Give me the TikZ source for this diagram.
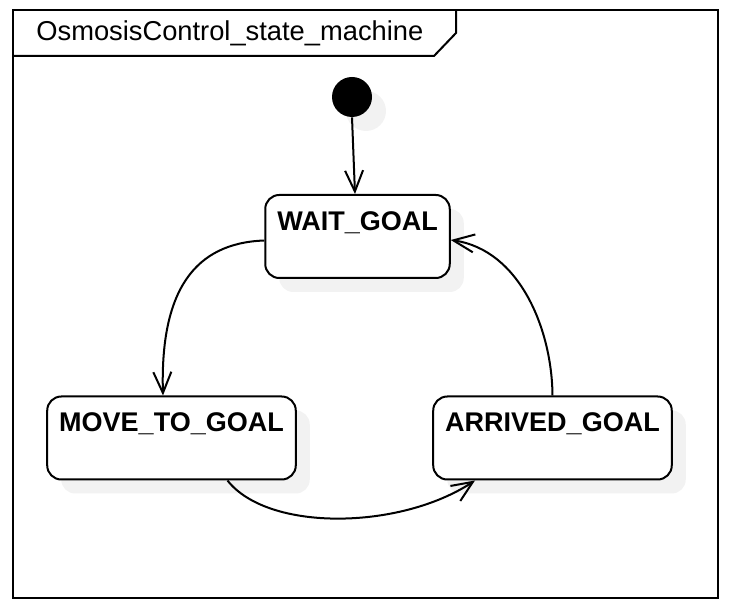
\documentclass[tikz,border=0pt]{standalone}
\usepackage{fontspec}
\setmainfont{Liberation Sans}
\usetikzlibrary{
  positioning,
  calc,
  shadows,
  arrows.meta
  }
\tikzset{
  >={Straight Barb[length=10.5pt, width=9pt]},
  wire/.style={line width=1pt},
  lab/.style={font=\fontsize{13.65pt}{16pt}\selectfont},
  statebox/.style={draw, line width=1pt, rounded corners=7pt, fill=white,
    font=\fontsize{13.5pt}{16pt}\selectfont\bfseries,
    inner xsep=6pt, inner ysep=8pt, text height=9.7pt, text depth=15.8pt,
    drop shadow={shadow xshift=7pt, shadow yshift=-7pt, fill=black!5, opacity=1}},
  initstate/.style={circle, fill=black, minimum size=20pt, inner sep=0pt,
    drop shadow={shadow xshift=7pt, shadow yshift=-7pt, fill=black!5, opacity=1}},
}

\begin{document}
\begin{tikzpicture}[x=0.5pt, y=-0.5pt]
  \useasboundingbox (0,0) rectangle (729,609);
% =========================================================
% (A) frame with title tab
% =========================================================
  \draw[wire] (13,10) rectangle (718,598);
  \draw[wire] (13,56) -- (434,56) -- (456,33) -- (456,10);
  \node[lab, anchor=west, inner sep=0pt] (title) at (36,33) {OsmosisControl\_state\_machine};
% =========================================================
% (B) states
% =========================================================
  \node[initstate] (init) at (352,97) {};
  \node[statebox] (waitgoal) at (357.5,236.5) {WAIT\_GOAL};
  \node[statebox] (movetogoal) at (171.5,438) {MOVE\_TO\_GOAL};
  \node[statebox] (arrivedgoal) at (552.5,438) {ARRIVED\_GOAL};
% =========================================================
% (C) transitions
% =========================================================
  \draw[wire,->] (init.south) -- ([xshift=-1.25pt]waitgoal.north);
  \draw[wire,->] ([yshift=-2pt]waitgoal.west) .. controls (195,243) and (160,290) .. ([xshift=-4.25pt]movetogoal.north);
  \draw[wire,->] ([xshift=28pt]movetogoal.south) .. controls (268,532) and (400,530) .. ([xshift=-38.75pt]arrivedgoal.south);
  \draw[wire,->] (arrivedgoal.north) .. controls (552,330) and (520,250) .. ([yshift=-1.75pt]waitgoal.east);
\end{tikzpicture}
\end{document}
